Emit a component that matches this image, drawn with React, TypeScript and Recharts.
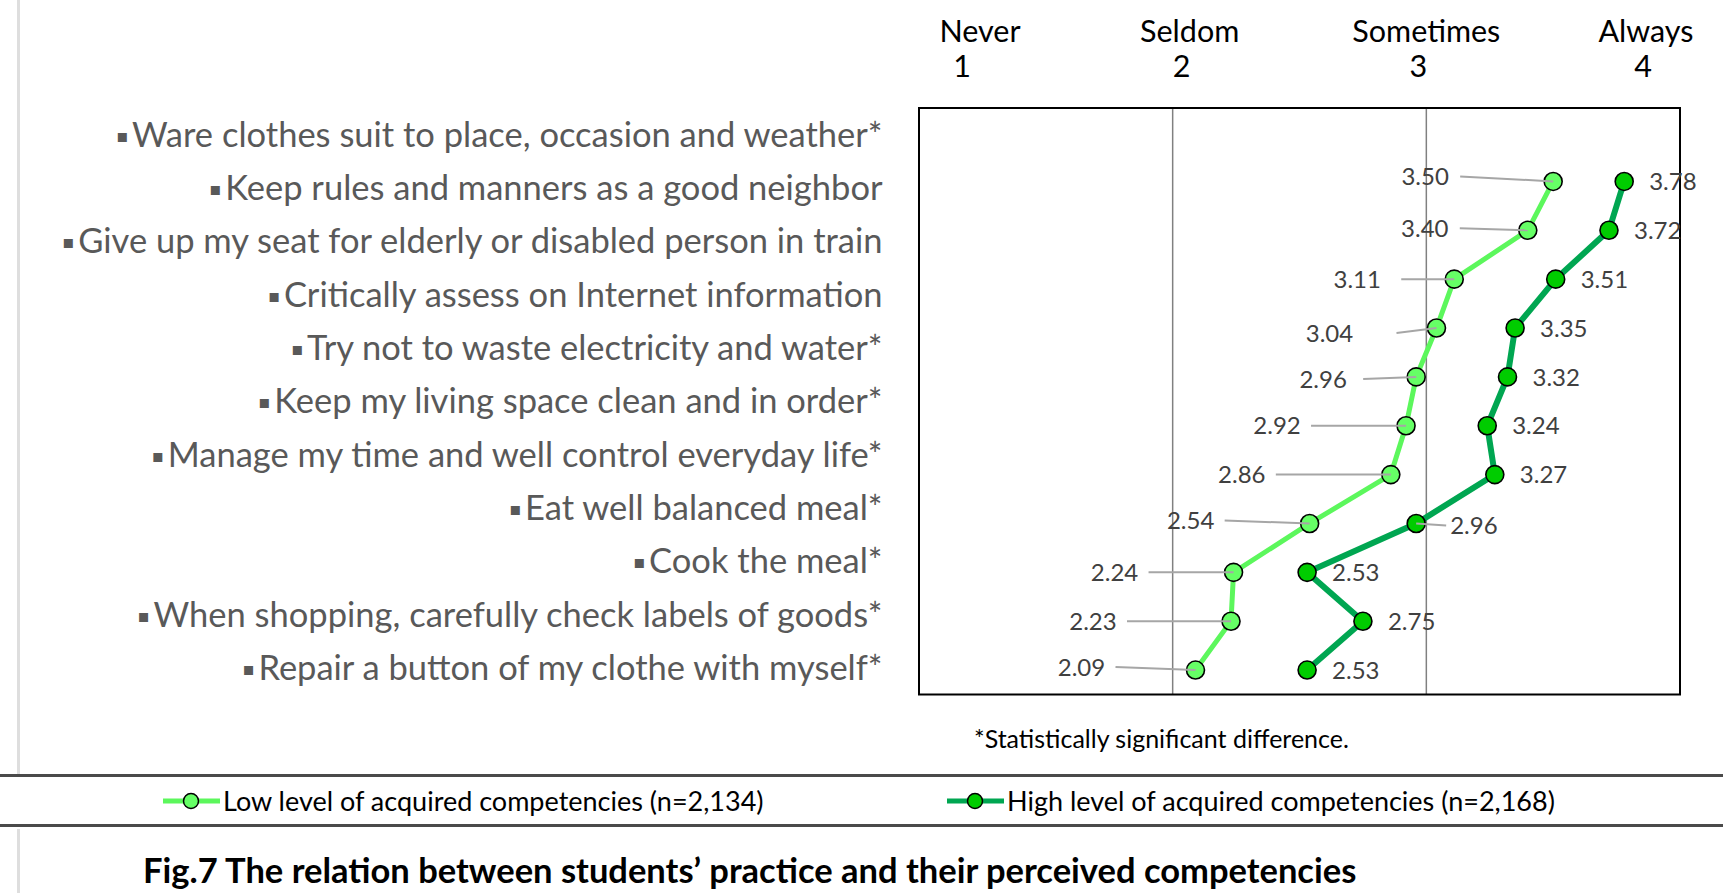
import React from "react";
import {
  LineChart,
  Line,
  XAxis,
  YAxis,
  CartesianGrid,
  ReferenceArea,
  LabelList,
  Legend,
} from "recharts";

const ITEMS = [
  "Ware clothes suit to place, occasion and weather*",
  "Keep rules and manners as a good neighbor",
  "Give up my seat for elderly or disabled person in train",
  "Critically assess on Internet information",
  "Try not to waste electricity and water*",
  "Keep my living space clean and in order*",
  "Manage my time and well control everyday life*",
  "Eat well balanced meal*",
  "Cook the meal*",
  "When shopping, carefully check labels of goods*",
  "Repair a button of my clothe with myself*",
];

const LOW = [3.5, 3.4, 3.11, 3.04, 2.96, 2.92, 2.86, 2.54, 2.24, 2.23, 2.09];
const HIGH = [3.78, 3.72, 3.51, 3.35, 3.32, 3.24, 3.27, 2.96, 2.53, 2.75, 2.53];

const SCALE_TICKS = [1, 2, 3, 4];
const SCALE_NAMES = ["Never", "Seldom", "Sometimes", "Always"];

const LEGEND_NAMES = [
  "Low level of acquired competencies (n=2,134)",
  "High level of acquired competencies (n=2,168)",
];

const NOTE = "*Statistically significant difference.";
const TITLE = "Fig.7 The relation between students\u2019 practice and their perceived competencies";

const data = ITEMS.map((item, i) => ({ item, low: LOW[i], high: HIGH[i] }));

const FONT = 'Lato, "Open Sans", sans-serif';
const LOW_STROKE = "#5cf75c";
const LOW_FILL = "#66ff66";
const HIGH_STROKE = "#00a651";
const HIGH_FILL = "#00cc00";

// label placement (Excel had them dragged by hand)
const WORD_DX = [61, 17, 0, -34];
const NUM_DX = [43, 9, -8, -37];
const LOW_DX = [-128, -103, -97, -107, -93, -129, -149, -119, -119, -138, -114];
const LOW_DY = [-5, -2, 0, 5, 2, 0, 0, -3, 0, 0, -3];
const LOW_LEAD = [35, 35, 44, 67, 40, 34, 34, 34, 34, 34, 34];
const HIGH_DX = [25, 25, 25, 25, 25, 25, 25, 34, 25, 25, 25];
const HIGH_DY = [0, 0, 0, 0, 0, 0, 0, 2, 0, 0, 0];

const ScaleTick = (props: any) => {
  const { x, index, payload } = props;
  return (
    <g fontFamily={FONT} fontSize={30.5} fill="#000">
      <text x={x + WORD_DX[index]} y={42} textAnchor="middle">
        {SCALE_NAMES[index]}
      </text>
      <text x={x + NUM_DX[index]} y={77} textAnchor="middle">
        {payload.value}
      </text>
    </g>
  );
};

const ItemTick = (props: any) => {
  const { x, y, payload } = props;
  return (
    <text x={x} y={y + 12} textAnchor="end" fontFamily={FONT} fontSize={34.5} fill="#595959">
      <tspan fontFamily="DejaVu Sans" fontSize={18} dy={-5}>
        {"\u25aa"}
      </tspan>
      <tspan dx={4} dy={5}>
        {payload.value}
      </tspan>
    </text>
  );
};

const LowLabel = (props: any) => {
  const { x, y, value, index } = props;
  const lx = x + LOW_DX[index];
  const ly = y + LOW_DY[index];
  return (
    <g>
      <line x1={lx + LOW_LEAD[index]} y1={ly} x2={x} y2={y} stroke="#a6a6a6" strokeWidth={2} />
      <text x={lx} y={ly} dy="0.36em" textAnchor="middle" fontFamily={FONT} fontSize={24} fill="#404040">
        {value.toFixed(2)}
      </text>
    </g>
  );
};

const HighLabel = (props: any) => {
  const { x, y, value, index } = props;
  const lx = x + HIGH_DX[index];
  const ly = y + HIGH_DY[index];
  return (
    <g>
      {HIGH_DX[index] > 25 && (
        <line x1={x} y1={y} x2={lx - 4} y2={ly} stroke="#a6a6a6" strokeWidth={2} />
      )}
      <text x={lx} y={ly} dy="0.36em" textAnchor="start" fontFamily={FONT} fontSize={24} fill="#404040">
        {value.toFixed(2)}
      </text>
    </g>
  );
};

const LEGEND_LEFT = [163, 947];
const LEGEND_FILL: Record<string, string> = { low: LOW_FILL, high: HIGH_FILL };

const LegendBox = (props: any) => {
  const payload = [...(props.payload || [])].sort(
    (a: any, b: any) => LEGEND_NAMES.indexOf(a.value) - LEGEND_NAMES.indexOf(b.value)
  );
  return (
    <div
      style={{
        position: "relative",
        width: 1723,
        height: 53,
        boxSizing: "border-box",
        borderTop: "3px solid #4a4a4a",
        borderBottom: "3px solid #4a4a4a",
      }}
    >
      {payload.map((p: any, i: number) => (
        <div
          key={p.value}
          style={{
            position: "absolute",
            left: LEGEND_LEFT[i],
            top: 0,
            height: 47,
            display: "flex",
            alignItems: "center",
            fontFamily: FONT,
            fontSize: 27,
            color: "#000",
          }}
        >
          <svg width={57} height={20} style={{ marginRight: 3 }}>
            <line x1={0} y1={10} x2={57} y2={10} stroke={p.color} strokeWidth={5} />
            <circle cx={28} cy={10} r={7.5} fill={LEGEND_FILL[p.dataKey]} stroke="#000" strokeWidth={1.5} />
          </svg>
          <span>{p.value}</span>
        </div>
      ))}
    </div>
  );
};

export default function App() {
  return (
    <div
      style={{
        position: "fixed",
        left: 0,
        top: 0,
        width: 1723,
        height: 893,
        background: "#fff",
        overflow: "hidden",
      }}
    >
      <div style={{ position: "absolute", left: 17, top: 0, width: 3, height: 774, background: "#dedede" }} />
      <div style={{ position: "absolute", left: 17, top: 829, width: 3, height: 64, background: "#dedede" }} />
      <LineChart
        layout="vertical"
        width={1723}
        height={893}
        data={data}
        margin={{ top: 8, right: 43, bottom: 145.5, left: 0 }}
      >
        <CartesianGrid yAxisId="names" horizontal={false} stroke="#808080" strokeWidth={1.5} />
        <XAxis
          type="number"
          orientation="top"
          domain={[1, 4]}
          ticks={SCALE_TICKS}
          interval={0}
          height={100}
          axisLine={false}
          tickLine={false}
          tick={<ScaleTick />}
        />
        <YAxis
          yAxisId="names"
          type="category"
          scale="band"
          dataKey="item"
          width={919}
          interval={0}
          axisLine={false}
          tickLine={false}
          tickSize={0}
          tickMargin={36.5}
          tick={<ItemTick />}
        />
        <YAxis
          yAxisId="pts"
          type="category"
          scale="band"
          dataKey="item"
          hide
          padding={{ top: 49, bottom: 0 }}
        />
        <ReferenceArea yAxisId="names" x1={1} x2={4} fill="none" stroke="#000" strokeWidth={2} />
        <Line
          yAxisId="pts"
          dataKey="low"
          name={LEGEND_NAMES[0]}
          stroke={LOW_STROKE}
          strokeWidth={5}
          dot={{ r: 9, fill: LOW_FILL, stroke: "#000", strokeWidth: 1.6 }}
          isAnimationActive={false}
        >
          <LabelList dataKey="low" content={<LowLabel />} />
        </Line>
        <Line
          yAxisId="pts"
          dataKey="high"
          name={LEGEND_NAMES[1]}
          stroke={HIGH_STROKE}
          strokeWidth={6}
          dot={{ r: 9, fill: HIGH_FILL, stroke: "#000", strokeWidth: 1.6 }}
          isAnimationActive={false}
        >
          <LabelList dataKey="high" content={<HighLabel />} />
        </Line>
        <Legend
          verticalAlign="bottom"
          content={<LegendBox />}
          wrapperStyle={{ top: 774, left: 0, bottom: "auto", width: 1723 }}
        />
      </LineChart>
      <div
        style={{
          position: "absolute",
          left: 974,
          top: 723,
          fontFamily: FONT,
          fontSize: 25,
          color: "#000",
          whiteSpace: "nowrap",
        }}
      >
        {NOTE}
      </div>
      <div
        style={{
          position: "absolute",
          left: 143,
          top: 853,
          fontFamily: FONT,
          fontSize: 34.5,
          lineHeight: "34px",
          fontWeight: 700,
          color: "#000",
          whiteSpace: "nowrap",
        }}
      >
        {TITLE}
      </div>
    </div>
  );
}
